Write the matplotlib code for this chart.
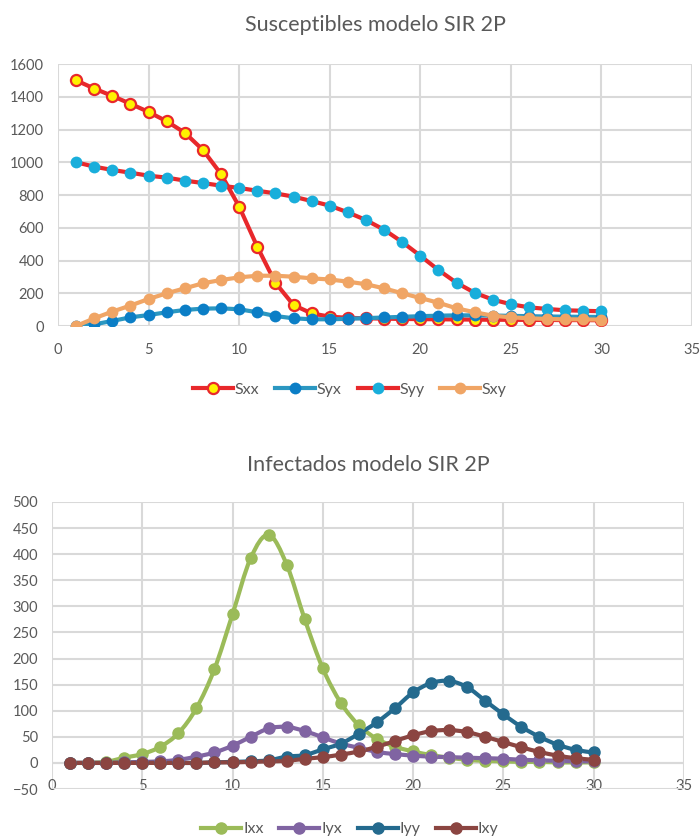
import numpy as np
import matplotlib
matplotlib.use('Agg')
import matplotlib.pyplot as plt
from matplotlib.path import Path
from matplotlib.patches import PathPatch
from matplotlib.lines import Line2D

plt.rcParams['font.family'] = ['Lato', 'DejaVu Sans']

dias = list(range(1, 31))

# susceptibles
Sxx = [1500, 1450, 1405, 1357, 1307, 1250, 1180, 1075, 928, 729, 484, 264, 128, 77, 57,
       50, 47, 45, 43, 42, 41, 40, 39, 38, 38, 37, 37, 36, 36, 35]
Syx = [0, 10, 31, 53, 67, 84, 98, 106, 108, 102, 84, 61, 47, 41, 41,
       44, 48, 52, 56, 60, 63, 65, 65, 64, 62, 60, 58, 57, 56, 55]
Syy = [1000, 973, 953, 936, 918, 906, 888, 873, 857, 843, 826, 810, 790, 763, 735,
       694, 647, 588, 513, 429, 342, 264, 203, 161, 133, 114, 104, 96, 93, 90]
Sxy = [0, 47, 88, 125, 165, 200, 230, 261, 281, 297, 307, 307, 301, 291, 284,
       271, 255, 230, 200, 171, 142, 108, 84, 63, 53, 47, 43, 41, 40, 39]

# infectados
Ixx = [0, 0, 2, 10, 17, 31, 57, 105, 180, 285, 392, 437, 380, 275, 181,
       115, 72, 46, 31, 22, 15, 10, 6, 4, 3, 2, 2, 1, 1, 1]
Iyx = [0, 0, 0, 1, 2, 3, 6, 12, 20, 33, 50, 66, 69, 61, 49,
       37, 29, 21, 17, 14, 12, 11, 10, 9, 8, 6, 5, 4, 3, 3]
Iyy = [0, 0, 0, 0, 0, 0, 0, 0, 1, 2, 3, 5, 12, 15, 26,
       37, 56, 78, 105, 135, 153, 157, 145, 119, 93, 69, 50, 35, 25, 20]
Ixy = [0, 0, 0, 0, 0, 0, 0, 0, 1, 1, 2, 3, 4, 8, 11,
       16, 22, 31, 42, 53, 61, 63, 59, 50, 40, 30, 21, 14, 9, 6]

gris = '#595959'
rejilla = '#D9D9D9'


def curva_suave(ax, x, y, color, lw):
    # linea suavizada tipo Excel (bezier cubica por los puntos)
    x = np.asarray(x, float)
    y = np.asarray(y, float)
    verts = [(x[0], y[0])]
    codes = [Path.MOVETO]
    n = len(x)
    for i in range(n - 1):
        x0, y0 = (x[i - 1], y[i - 1]) if i > 0 else (x[i], y[i])
        x3, y3 = (x[i + 2], y[i + 2]) if i + 2 < n else (x[i + 1], y[i + 1])
        c1 = (x[i] + (x[i + 1] - x0) / 6, y[i] + (y[i + 1] - y0) / 6)
        c2 = (x[i + 1] - (x3 - x[i]) / 6, y[i + 1] - (y3 - y[i]) / 6)
        verts += [c1, c2, (x[i + 1], y[i + 1])]
        codes += [Path.CURVE4] * 3
    ax.add_patch(PathPatch(Path(verts, codes), facecolor='none', edgecolor=color,
                           lw=lw, capstyle='round', joinstyle='round'))


def estilo(ax, ymin, ymax, paso):
    ax.set_xlim(0, 35)
    ax.set_ylim(ymin, ymax)
    ax.set_xticks(range(0, 36, 5))
    ax.set_yticks(range(ymin, ymax + 1, paso))
    ax.grid(True, color=rejilla, lw=1.5)
    ax.set_axisbelow(True)
    for s in ax.spines.values():
        s.set_visible(False)
    ax.tick_params(length=0, labelsize=10.5, labelcolor=gris)


fig = plt.figure(figsize=(7, 8.4), dpi=100)

# ---- susceptibles ----
ax1 = fig.add_axes([0.0829, 0.6119, 0.9057, 0.3119])
estilo(ax1, 0, 1600, 200)
ax1.tick_params(axis='x', pad=12)
ax1.tick_params(axis='y', pad=10)

series_s = [
    ('Sxx', Sxx, '#E8282B', '#FFF200', '#E8282B', 8),
    ('Syx', Syx, '#2B97C1', '#0B7EC6', '#0B7EC6', 8.5),
    ('Syy', Syy, '#E8282B', '#19AEDB', '#19AEDB', 8.5),
    ('Sxy', Sxy, '#F0A565', '#F0A565', '#F0A565', 8.5),
]
handles = []
for nombre, y, cl, cf, ce, ms in series_s:
    ew = 1.6 if nombre == 'Sxx' else 0
    ax1.plot(dias, y, color=cl, lw=3, marker='o', ms=ms, mfc=cf, mec=ce, mew=ew,
             solid_joinstyle='round')
    handles.append(Line2D([], [], color=cl, lw=3, marker='o', ms=ms, mfc=cf, mec=ce,
                          mew=ew, label=nombre))
ax1.set_title('Susceptibles modelo SIR 2P', fontsize=15.5, color=gris, pad=24)
fig.legend(handles=handles, loc='center', bbox_to_anchor=(0.5, 0.536), ncol=4,
           frameon=False, fontsize=11.5, handlelength=2.5, handletextpad=0.1,
           columnspacing=1.0, labelcolor=gris)

# ---- infectados ----
ax2 = fig.add_axes([0.0743, 0.0607, 0.9027, 0.3417])
estilo(ax2, -50, 500, 50)
ax2.tick_params(axis='x', pad=-7)
ax2.tick_params(axis='y', pad=10)
ax2.axhline(0, color=rejilla, lw=1.5, zorder=0.5)

series_i = [
    ('Ixx', Ixx, '#9BBB59'),
    ('Iyx', Iyx, '#8064A2'),
    ('Iyy', Iyy, '#246A8E'),
    ('Ixy', Ixy, '#8B4541'),
]
handles2 = []
for nombre, y, c in series_i:
    curva_suave(ax2, dias, y, c, 3)
    ax2.plot(dias, y, ls='none', marker='o', ms=8, color=c)
    handles2.append(Line2D([], [], color=c, lw=3, marker='o', ms=8, label=nombre))
ax2.set_title('Infectados modelo SIR 2P', fontsize=15.5, color=gris, pad=22)
fig.legend(handles=handles2, loc='center', bbox_to_anchor=(0.5, 0.013), ncol=4,
           frameon=False, fontsize=11.5, handlelength=2.5, handletextpad=0.1,
           columnspacing=1.0, labelcolor=gris)

fig.savefig('out.png', dpi=100)
